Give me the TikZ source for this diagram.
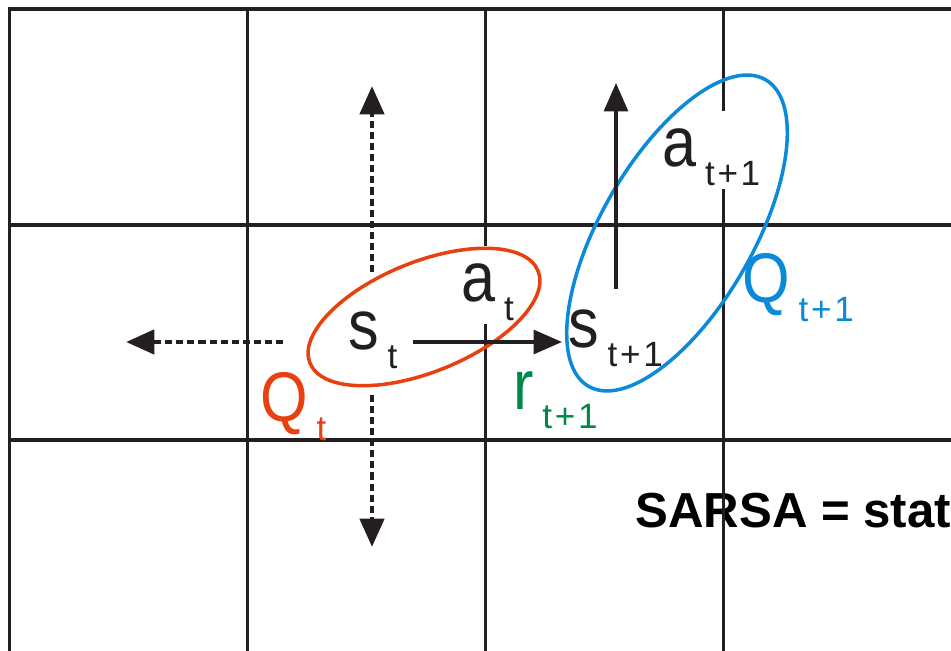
\documentclass[tikz,border=0pt]{standalone}
\usepackage{fontspec}
\usetikzlibrary{arrows.meta}
\newfontfamily\labelfont[FakeStretch=0.87]{Liberation Sans}
\newfontfamily\subfont{Liberation Sans}
\newfontfamily\captionfont{Liberation Sans}
\definecolor{gridInk}{HTML}{231F20}
\definecolor{qRed}{HTML}{E8400E}
\definecolor{qBlue}{HTML}{0B8AD9}
\definecolor{rewardGreen}{HTML}{00884A}
\newcommand{\withsub}[2]{#1\kern5pt\raisebox{-10.5pt}{\subfont\fontsize{20}{20}\selectfont #2}}
\tikzset{
  grid line/.style={
    draw=gridInk,
    line width=2pt,
    line cap=rect
  },
  q ellipse/.style={
    line width=2pt
  },
  move edge/.style={
    -{Triangle[length=0.57cm,width=0.48cm]},
    draw=gridInk,
    line width=1.9pt
  },
  option edge/.style={
    move edge,
    line width=2.8pt,
    dash pattern=on 4pt off 2.3pt
  },
  state label/.style={
    anchor=base west,
    inner sep=0pt,
    font=\labelfont\fontsize{40}{40}\selectfont,
    text=gridInk
  },
  action label/.style={
    state label,
    fill=white,
    inner ysep=2pt,
    text height=30pt
  },
  caption label/.style={
    anchor=base west,
    inner sep=0pt,
    font=\captionfont\bfseries\fontsize{28}{28}\selectfont,
    text=black
  }
}

\begin{document}
\begin{tikzpicture}[x=0.02cm,y=-0.02cm]
  \clip (0,0) rectangle (951,651);
  \node[caption label] (sarsa) at (635,528) {SARSA = stat};

  \foreach \gx in {9.5,247.5,485.5,723.5}
    \draw[grid line] (\gx,9) -- (\gx,700);
  \foreach \gy in {9,225,440}
    \draw[grid line] (9.5,\gy) -- (1000,\gy);

  \node[action label] (a-t) at (461,302) {\withsub{a}{t}};
  \node[action label] (a-next) at (662,167) {\withsub{a}{t\kern1.5pt+\kern1.5pt1}};
  \node[state label] (s-t) at (348,350) {\withsub{s}{t}};
  \node[state label] (s-next) at (568,348) {\withsub{s}{t\kern1.5pt+\kern1.5pt1}};
  \node[state label,text=qRed] (q-t) at (260,422) {\withsub{Q}{t}};
  \node[state label,text=qBlue] (q-next) at (742,303) {\withsub{Q}{t\kern1.5pt+\kern1.5pt1}};
  \node[state label,text=rewardGreen] (r-next) at (513,410) {\withsub{r}{t\kern1.5pt+\kern1.5pt1}};

  \draw[q ellipse,draw=qRed,rotate around={22:(424,317)}] (424,317) ellipse [x radius=123,y radius=55];
  \draw[q ellipse,draw=qBlue,rotate around={60:(677,233)}] (677,233) ellipse [x radius=177,y radius=76];

  \coordinate (left-from) at (283,342);
  \coordinate (left-to) at (126,342);
  \coordinate (up-from) at (372,272);
  \coordinate (up-to) at (372,86);
  \coordinate (down-from) at (372,395);
  \coordinate (down-to) at (372,547);
  \coordinate (move-from) at (413,342);
  \coordinate (move-to) at (562,342);
  \coordinate (next-from) at (616,289);
  \coordinate (next-to) at (616,83);

  \draw[option edge] (left-from) -- (left-to);
  \draw[option edge] (up-from) -- (up-to);
  \draw[option edge] (down-from) -- (down-to);
  \draw[move edge] (move-from) -- (move-to);
  \draw[move edge] (next-from) -- (next-to);
\end{tikzpicture}
\end{document}
